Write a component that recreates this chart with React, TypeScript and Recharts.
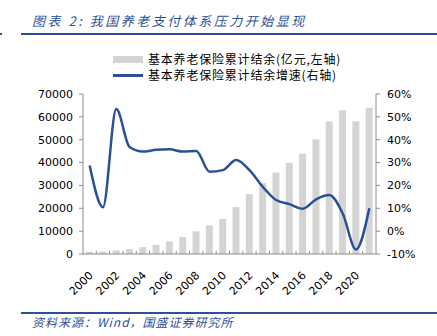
import { Bar, ComposedChart, Line, XAxis, YAxis } from "recharts";

const years = [
	"2000", "2001", "2002", "2003", "2004", "2005", "2006", "2007", "2008", "2009", "2010",
	"2011", "2012", "2013", "2014", "2015", "2016", "2017", "2018", "2019", "2020", "2021",
];
const balance = [
	950, 1050, 1610, 2210, 2980, 4040, 5490, 7390, 9930, 12530, 15370,
	20500, 26200, 31000, 35600, 39900, 43900, 50200, 58100, 62900, 58100, 64000,
];
const growth = [
	28.7, 10.5, 53.4, 36.8, 34.8, 35.6, 35.8, 34.8, 35.1, 26.0, 26.7,
	31.1, 26.7, 19.4, 13.6, 11.8, 9.8, 13.9, 15.8, 7.7, -8.0, 10.0,
];
const leftTicks = [0, 10000, 20000, 30000, 40000, 50000, 60000, 70000];
const rightTicks = [-10, 0, 10, 20, 30, 40, 50, 60];

const data = years.map((year, i) => ({ year, balance: balance[i], growth: growth[i] }));

const BLUE = "#2C5096";
const AXIS = "#8C8C8C";
const tickFont = { fontFamily: "DejaVu Sans", fontSize: 11, fill: "#000" };

// every category gets a small inward mark at its right edge, every other one a rotated label
const YearTick = ({ x, y, index, payload }: any) => {
	const half = 293 / years.length / 2;
	const axisY = y - 8;
	return (
		<g>
			{index < years.length - 1 && (
				<line x1={x + half} x2={x + half} y1={axisY} y2={axisY - 3} stroke={AXIS} strokeWidth={1} />
			)}
			{index % 2 === 0 && (
				<text
					x={x + 4}
					y={y + 14}
					transform={`rotate(-45 ${x + 4} ${y + 14})`}
					textAnchor="end"
					{...tickFont}
				>
					{payload.value}
				</text>
			)}
		</g>
	);
};

export default function App() {
	return (
		<div
			style={{
				position: "fixed",
				left: 0,
				top: 0,
				width: 437,
				height: 336,
				background: "#fff",
				fontFamily: "'Noto Sans CJK SC', sans-serif",
			}}
		>
			<div
				style={{
					position: "absolute",
					left: 32,
					top: 13,
					fontSize: 13,
					fontStyle: "italic",
					color: BLUE,
					whiteSpace: "nowrap",
					lineHeight: "16px",
					letterSpacing: 2.5,
				}}
			>
				图表 2: 我国养老支付体系压力开始显现
			</div>
			<div style={{ position: "absolute", left: 21, right: 0, top: 33, height: 2, background: BLUE }} />
			<div style={{ position: "absolute", left: 0, width: 2, top: 33, height: 2, background: BLUE }} />

			<div style={{ position: "absolute", left: 113, top: 51, fontSize: 12, color: "#000" }}>
				<div style={{ display: "flex", alignItems: "center", whiteSpace: "nowrap", letterSpacing: 0.8, height: 16, lineHeight: "16px" }}>
					<span style={{ display: "inline-block", width: 30, height: 7, background: "#D4D4D4", marginRight: 5 }} />
					基本养老保险累计结余(亿元,左轴)
				</div>
				<div style={{ display: "flex", alignItems: "center", whiteSpace: "nowrap", letterSpacing: 0.8, height: 16, lineHeight: "16px" }}>
					<span style={{ display: "inline-block", width: 30, height: 3, background: BLUE, marginRight: 5 }} />
					基本养老保险累计结余增速(右轴)
				</div>
			</div>

			<ComposedChart
				width={437}
				height={336}
				data={data}
				margin={{ top: 94, right: 11, bottom: 42, left: 23 }}
				barSize={7}
			>
				<XAxis
					dataKey="year"
					interval={0}
					tickLine={false}
					stroke={AXIS}
					tick={<YearTick />}
					height={40}
				/>
				<YAxis
					yAxisId="left"
					domain={[0, 70000]}
					ticks={leftTicks}
					width={60}
					stroke={AXIS}
					tickSize={4}
					tickMargin={6}
					tick={tickFont}
					interval={0}
				/>
				<YAxis
					yAxisId="right"
					orientation="right"
					domain={[-10, 60]}
					ticks={rightTicks}
					width={50}
					stroke={AXIS}
					tickSize={4}
					tickMargin={7}
					tick={tickFont}
					tickFormatter={(v: number) => `${v}%`}
					interval={0}
				/>
				<Bar yAxisId="left" dataKey="balance" fill="#D4D4D4" isAnimationActive={false} />
				<Line
					yAxisId="right"
					dataKey="growth"
					type="monotone"
					stroke={BLUE}
					strokeWidth={2.5}
					dot={false}
					isAnimationActive={false}
				/>
			</ComposedChart>

			<div style={{ position: "absolute", left: 21, right: 0, top: 312, height: 1.5, background: BLUE }} />
			<div
				style={{
					position: "absolute",
					left: 32,
					top: 314,
					fontSize: 12,
					fontStyle: "italic",
					color: BLUE,
					whiteSpace: "nowrap",
					lineHeight: "16px",
					letterSpacing: 1,
				}}
			>
				资料来源：Wind，国盛证券研究所
			</div>
		</div>
	);
}
